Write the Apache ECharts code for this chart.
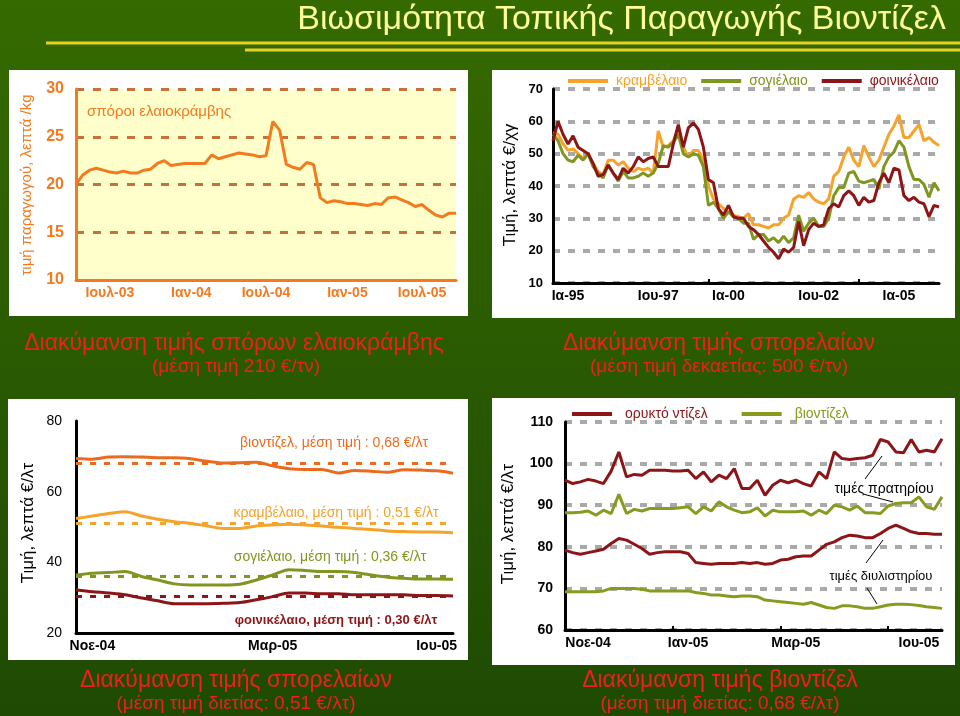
<!DOCTYPE html>
<html>
<head>
<meta charset="utf-8">
<script src="https://cdn.jsdelivr.net/npm/echarts@6/dist/echarts.min.js"></script>
<style>
  * { margin: 0; padding: 0; }
  body { background: #2d5c00; }
  #main {
    width: 960px;
    height: 716px;
    background: linear-gradient(#356a00, #1f4a04);
  }
</style>
</head>
<body>
<div id="main"></div>
<script>
// σπόροι ελαιοκράμβης, λεπτά/kg
const seedPrice = [20.0,21.0,21.5,21.7,21.5,21.3,21.2,21.4,21.2,21.2,
  21.5,21.6,22.2,22.5,22.0,22.1,22.2,22.2,22.2,22.2,
  23.1,22.7,22.9,23.1,23.3,23.2,23.1,22.9,23.0,26.6,
  25.7,22.1,21.8,21.6,22.3,22.1,18.6,18.1,18.3,18.2,
  18.0,18.0,17.9,17.8,18.0,17.9,18.6,18.7,18.4,18.1,
  17.7,17.9,17.3,16.8,16.6,17.0,17.0];
const seedTickIdx = [5, 17, 28, 40, 51];
const seedTickText = ['Ιουλ-03', 'Ιαν-04', 'Ιουλ-04', 'Ιαν-05', 'Ιουλ-05'];

// σπορέλαια 1995-2005, λεπτά €/χγ
const rapeOil = [56.5,56,53,51,51.5,50,48.5,50,47,44.5,
  43.5,48,48,46.5,47.5,45.5,44.5,45.5,45,45.5,
  44,57,52,52.5,54,58,52,49,51,51,
  48,40,36,34.5,33,32,31,30.5,30,31.5,
  28,28,27.5,27,28,28,30,31,36,37,
  36.5,38,36,35,34.5,36,43,44.5,49,52,
  48,46,52.5,49,46,48,52,56,58.5,62,
  55,55,57,59,54,55,53.5,52.5];
const soyOil = [56,54,50,48,47.5,49.5,48,50,46,44,
  42.5,46.5,44,41.5,44.5,42.5,42.5,43,44,43,
  44,47,52.5,52,53.5,56,50,49,50,49.5,
  46,34,35,33,30,32,30.5,30,28.5,28.5,
  23.5,25,25,23,24,22.5,24.5,22.5,24,31,
  26,28.5,30,27.5,27.5,30,37,39.5,39.5,44,
  44.5,41.5,41,41.5,42,39,46,49,50.5,54,
  52,46,42,42,40.5,36.5,41,38.5];
const palmOil = [54,60,56,53,55.5,52,51,50,47,43,
  43.5,46.5,44,42,45.5,44,46,49,47.5,48.5,
  49,46,46,46,53,59,52,58,59.5,57.5,
  52,42,41,33,31,34,30.5,30,30,27.5,
  26.5,25,23,21,19.5,17.5,20.5,19.5,21,29,
  21.5,26.5,28.5,27.5,28,33,34.5,33.5,37,38.5,
  37,34,36.5,35,35.5,41,44,41,45.5,45,
  37,35.5,36.5,35,34.5,30.5,34,33.5];
const oilTickIdx = [3, 21, 35, 53, 69];
const oilTickText = ['Ια-95', 'Ιου-97', 'Ια-00', 'Ιου-02', 'Ια-05'];
const oilMarkIdx = [31, 61];

// σπορέλαια Νοε-04 – Ιου-05, λεπτά €/λτ
const bioAvg = [69.4,69.2,69.8,69.9,69.8,69.6,69.6,69.3,68.6,68.1,68.2,68.3,
  67.3,66.5,66.3,66.3,65.3,66.0,65.8,65.5,66.2,66.1,65.9,65.2];
const rapeAvg = [52.4,53.1,53.8,54.3,53.1,52.2,51.5,51.0,50.3,49.6,49.6,50.3,
  50.6,50.8,50.6,50.3,49.9,49.6,49.3,48.9,48.7,48.6,48.6,48.4];
const soyAvg = [36.4,36.9,37.1,37.4,36.0,35.0,33.9,33.6,33.6,33.6,33.8,35.0,
  36.4,37.9,37.7,37.4,37.4,37.1,36.4,35.8,35.5,35.3,35.3,35.2];
const palmAvg = [32.2,31.7,31.3,30.8,29.9,29.1,28.3,28.3,28.3,28.4,28.6,29.4,
  30.3,31.3,31.3,31.1,31.1,30.8,30.8,30.8,30.8,30.6,30.6,30.5];
const meanPrices = [68, 51, 36, 30.5];
const meanTexts = ['βιοντίζελ, μέση τιμή : 0,68 €/λτ', 'κραμβέλαιο, μέση τιμή : 0,51 €/λτ',
  'σογιέλαιο, μέση τιμή : 0,36 €/λτ', 'φοινικέλαιο, μέση τιμή : 0,30 €/λτ'];
const avgTickIdx = [1, 12, 22];
const avgTickText = ['Νοε-04', 'Μαρ-05', 'Ιου-05'];

// ντίζελ / βιοντίζελ, λεπτά €/λτ
const dieselPump = [96.0,95.2,95.6,96.2,95.8,95.2,98.2,102.8,96.8,97.4,
  97.2,98.4,98.4,98.4,98.2,98.2,98.4,96.4,98,95.6,
  97.2,96.4,98.8,94,94,96,92.4,94.8,96,95.4,
  96,95.2,94.6,98,96.4,102.8,101.2,101,101.2,101.4,
  102,105.8,105.2,102.8,102.6,105.8,102.8,103.2,102.8,106];
const bioPump = [88.2,88.2,88.3,88.6,87.6,88.8,88,92.6,88,89,
  88.6,89.2,89.2,89.2,89.2,89.4,89.6,88,89.6,88.6,
  90.8,89.6,88.8,88.2,88.4,89.4,87.4,88.8,88.4,88.4,
  88.4,88.6,87.6,88.8,88,90,89.6,88.8,89.8,88.2,
  88.2,88,89.8,90.4,90.6,90.6,92,89.6,89,92];
const dieselRefinery = [79.2,78.6,78.2,78.6,79,79.4,80.8,82,81.6,80.6,
  79.6,78.2,78.6,78.8,78.8,78.8,78.4,76.2,76,75.8,
  76,76,76,76.2,76,76.2,75.8,76,76.8,77,
  77.6,77.8,77.8,79.2,80.6,81.2,82.2,82.8,82.6,82.2,
  82.2,83.2,84.4,85.2,84.4,83.6,83.2,83.2,83,83];
const bioRefinery = [69.2,69.2,69.2,69.2,69.2,69.4,70,70,70,70,
  69.8,69.4,69.4,69.4,69.4,69.4,69.4,69,68.8,68.4,
  68.4,68.2,68,68.2,68.2,68,67.2,67,66.8,66.6,
  66.4,66.2,66.6,66,65.4,65.2,65.8,65.8,65.6,65.2,
  65.2,65.6,66,66.2,66.2,66.1,65.9,65.6,65.4,65.2];
const dieselTickIdx = [3, 16, 30, 46];
const dieselTickText = ['Νοε-04', 'Ιαν-05', 'Μαρ-05', 'Ιου-05'];
const dieselMarkIdx = [14, 28, 42];

const FONT = 'Liberation Sans, Arial, sans-serif';
const ORANGE = '#f47a1f';
const C_RAPE = '#f5a32a';
const C_SOY = '#7f9620';
const C_PALM = '#8c1518';
const C_BIO = '#ec6a1e';
const C_OLIVE = '#8a9a1e';
const RED_TXT = '#f01e1e';

function cats(arr) { return arr.map((_, i) => 'p' + i); }
function tickAxis(gridIndex, data, idx, text, opts) {
  return Object.assign({
    type: 'category', gridIndex: gridIndex, data: cats(data), boundaryGap: false,
    axisLine: { show: true, onZero: false, lineStyle: { color: '#000', width: 3 } },
    axisTick: { show: false },
    axisLabel: {
      interval: (i) => idx.indexOf(i) >= 0,
      formatter: (v, i) => text[idx.indexOf(i)] || '',
      color: '#000', fontWeight: 'bold', fontSize: 14, fontFamily: FONT, margin: 6
    },
    splitLine: { show: false }
  }, opts || {});
}
const grayDash = { show: true, lineStyle: { color: '#a9a9a9', width: 4, type: [7, 8] } };

function vText(x, y, text, color, size) {
  return { type: 'text', x: x, y: y, rotation: Math.PI / 2, z: 5,
    style: { text: text, fill: color, font: size + 'px ' + FONT, align: 'center', verticalAlign: 'middle' } };
}
function hText(x, y, text, color, font, align) {
  return { type: 'text', x: x, y: y, z: 5,
    style: { text: text, fill: color, font: font + ' ' + FONT, align: align || 'center', verticalAlign: 'middle' } };
}
function panel(x, y, w, h) {
  return { type: 'rect', z: -10, shape: { x: x, y: y, width: w, height: h }, style: { fill: '#ffffff' } };
}
function leader(x1, y1, x2, y2) {
  return { type: 'line', z: 5, shape: { x1: x1, y1: y1, x2: x2, y2: y2 }, style: { stroke: '#000', lineWidth: 1 } };
}

const chart = echarts.init(document.getElementById('main'));
chart.setOption({
  backgroundColor: 'transparent',
  animation: false,
  graphic: [
    panel(9, 70, 459, 246),
    panel(492, 70, 463, 248),
    panel(8, 399, 460, 261),
    panel(492, 398, 463, 267),
    { type: 'line', shape: { x1: 46, y1: 43, x2: 960, y2: 43 }, style: { stroke: '#e8d020', lineWidth: 3 } },
    { type: 'line', shape: { x1: 245, y1: 50, x2: 960, y2: 50 }, style: { stroke: '#e8d020', lineWidth: 3 } },
    hText(946, 20, 'Βιωσιμότητα Τοπικής Παραγωγής Βιοντίζελ', '#ffff99', '34px', 'right'),
    hText(234, 344, 'Διακύμανση τιμής σπόρων ελαιοκράμβης', RED_TXT, '23px'),
    hText(236, 367, '(μέση τιμή 210 €/τν)', RED_TXT, '19px'),
    hText(719, 344, 'Διακύμανση τιμής σπορελαίων', RED_TXT, '23px'),
    hText(719, 367, '(μέση τιμή δεκαετίας: 500 €/τν)', RED_TXT, '19px'),
    hText(236, 681, 'Διακύμανση τιμής σπορελαίων', RED_TXT, '23px'),
    hText(236, 704, '(μέση τιμή διετίας: 0,51 €/λτ)', RED_TXT, '19px'),
    hText(720, 681, 'Διακύμανση τιμής βιοντίζελ', RED_TXT, '23px'),
    hText(720, 704, '(μέση τιμή διετίας: 0,68 €/λτ)', RED_TXT, '19px'),
    vText(27, 185, 'τιμή παραγωγού, λεπτά /kg', ORANGE, 15),
    vText(510, 185, 'Τιμή, λεπτά €/χγ', '#000', 17),
    vText(28, 523, 'Τιμή, λεπτά €/λτ', '#000', 17),
    vText(508, 524, 'Τιμή, λεπτά €/λτ', '#000', 17),
    hText(87, 112, 'σπόροι ελαιοκράμβης', ORANGE, '15px', 'left'),
    hText(334, 443, meanTexts[0], C_BIO, '14px'),
    hText(336, 513, meanTexts[1], C_RAPE, '14px'),
    hText(330, 557, meanTexts[2], C_SOY, '14px'),
    hText(336, 620, meanTexts[3], C_PALM, 'bold 13px'),
    hText(884, 489, 'τιμές πρατηρίου', '#000', '14px'),
    hText(881, 576, 'τιμές διυλιστηρίου', '#000', '13px'),
    leader(865, 479, 882, 456),
    leader(863, 494, 893, 502),
    leader(866, 563, 883, 540),
    leader(867, 588, 877, 604)
  ],
  legend: [
    {
      left: 563, top: 69, icon: 'rect', itemWidth: 40, itemHeight: 4, itemGap: 14,
      textStyle: { fontSize: 14, fontFamily: FONT, padding: [0, 0, 0, 3] },
      data: [
        { name: 'κραμβέλαιο', textStyle: { color: C_RAPE } },
        { name: 'σογιέλαιο', textStyle: { color: C_SOY } },
        { name: 'φοινικέλαιο', textStyle: { color: C_PALM } }
      ]
    },
    {
      left: 567, top: 402, icon: 'rect', itemWidth: 40, itemHeight: 4, itemGap: 34,
      textStyle: { fontSize: 14, fontFamily: FONT, padding: [0, 0, 0, 8] },
      data: [
        { name: 'ορυκτό ντίζελ', textStyle: { color: C_PALM } },
        { name: 'βιοντίζελ', textStyle: { color: C_OLIVE } }
      ]
    }
  ],
  grid: [
    { left: 76, top: 89, width: 380, height: 191, show: true, backgroundColor: '#ffffcc', borderWidth: 0 },
    { left: 553, top: 89, width: 386, height: 194 },
    { left: 76, top: 421, width: 377, height: 212 },
    { left: 565, top: 422, width: 377, height: 208 }
  ],
  xAxis: [
    tickAxis(0, seedPrice, seedTickIdx, seedTickText, {
      axisLine: { show: true, onZero: false, lineStyle: { color: ORANGE, width: 3 } },
      axisLabel: {
        interval: (i) => seedTickIdx.indexOf(i) >= 0,
        formatter: (v, i) => seedTickText[seedTickIdx.indexOf(i)] || '',
        color: ORANGE, fontWeight: 'bold', fontSize: 14, fontFamily: FONT, margin: 6
      }
    }),
    tickAxis(1, rapeOil, oilTickIdx, oilTickText, {
      axisTick: { show: true, inside: true, length: 4, interval: (i) => oilMarkIdx.indexOf(i) >= 0,
        lineStyle: { color: '#000', width: 2 } }
    }),
    tickAxis(2, bioAvg, avgTickIdx, avgTickText),
    tickAxis(3, dieselPump, dieselTickIdx, dieselTickText, {
      axisTick: { show: true, inside: true, length: 4, interval: (i) => dieselMarkIdx.indexOf(i) >= 0,
        lineStyle: { color: '#000', width: 2 } }
    })
  ],
  yAxis: [
    {
      type: 'value', gridIndex: 0, min: 10, max: 30, interval: 5,
      axisLine: { show: true, lineStyle: { color: ORANGE, width: 3 } },
      axisTick: { show: false },
      axisLabel: { color: ORANGE, fontWeight: 'bold', fontSize: 16, fontFamily: FONT, margin: 12 },
      splitLine: { show: true, lineStyle: { color: '#c8703a', width: 3, type: [8, 9] } }
    },
    {
      type: 'value', gridIndex: 1, min: 10, max: 70, interval: 10,
      axisLine: { show: true, lineStyle: { color: '#000', width: 3 } },
      axisTick: { show: false },
      axisLabel: { color: '#000', fontWeight: 'bold', fontSize: 13, fontFamily: FONT, margin: 10 },
      splitLine: grayDash
    },
    {
      type: 'value', gridIndex: 2, min: 20, max: 80, interval: 20,
      axisLine: { show: true, lineStyle: { color: '#000', width: 3 } },
      axisTick: { show: false },
      axisLabel: { color: '#000', fontSize: 14, fontFamily: FONT, margin: 14 },
      splitLine: { show: false }
    },
    {
      type: 'value', gridIndex: 3, min: 60, max: 110, interval: 10,
      axisLine: { show: true, lineStyle: { color: '#000', width: 3 } },
      axisTick: { show: false },
      axisLabel: { color: '#000', fontWeight: 'bold', fontSize: 14, fontFamily: FONT, margin: 12 },
      splitLine: grayDash
    }
  ],
  series: [
    { type: 'line', xAxisIndex: 0, yAxisIndex: 0, data: seedPrice, symbol: 'none',
      lineStyle: { color: ORANGE, width: 3 }, itemStyle: { color: ORANGE } },

    { name: 'κραμβέλαιο', type: 'line', xAxisIndex: 1, yAxisIndex: 1, data: rapeOil, symbol: 'none',
      lineStyle: { color: C_RAPE, width: 3 }, itemStyle: { color: C_RAPE } },
    { name: 'σογιέλαιο', type: 'line', xAxisIndex: 1, yAxisIndex: 1, data: soyOil, symbol: 'none',
      lineStyle: { color: C_SOY, width: 3 }, itemStyle: { color: C_SOY } },
    { name: 'φοινικέλαιο', type: 'line', xAxisIndex: 1, yAxisIndex: 1, data: palmOil, symbol: 'none',
      lineStyle: { color: C_PALM, width: 3 }, itemStyle: { color: C_PALM } },

    ...[bioAvg, rapeAvg, soyAvg, palmAvg].map((d, k) => {
      const c = [C_BIO, C_RAPE, C_SOY, C_PALM][k];
      return {
        type: 'line', xAxisIndex: 2, yAxisIndex: 2, data: d, symbol: 'none', smooth: 0.3,
        lineStyle: { color: c, width: 3 }, itemStyle: { color: c },
        markLine: { silent: true, symbol: 'none', label: { show: false },
          lineStyle: { color: c, width: 3, type: [6, 8] },
          data: [{ yAxis: meanPrices[k] }] }
      };
    }),

    { name: 'ορυκτό ντίζελ', type: 'line', xAxisIndex: 3, yAxisIndex: 3, data: dieselPump, symbol: 'none',
      lineStyle: { color: C_PALM, width: 3 }, itemStyle: { color: C_PALM } },
    { name: 'βιοντίζελ', type: 'line', xAxisIndex: 3, yAxisIndex: 3, data: bioPump, symbol: 'none',
      lineStyle: { color: C_OLIVE, width: 3 }, itemStyle: { color: C_OLIVE } },
    { name: 'ορυκτό ντίζελ', type: 'line', xAxisIndex: 3, yAxisIndex: 3, data: dieselRefinery, symbol: 'none',
      lineStyle: { color: C_PALM, width: 3 }, itemStyle: { color: C_PALM } },
    { name: 'βιοντίζελ', type: 'line', xAxisIndex: 3, yAxisIndex: 3, data: bioRefinery, symbol: 'none',
      lineStyle: { color: C_OLIVE, width: 3 }, itemStyle: { color: C_OLIVE } }
  ]
});
window.addEventListener('resize', () => chart.resize());
</script>
</body>
</html>
